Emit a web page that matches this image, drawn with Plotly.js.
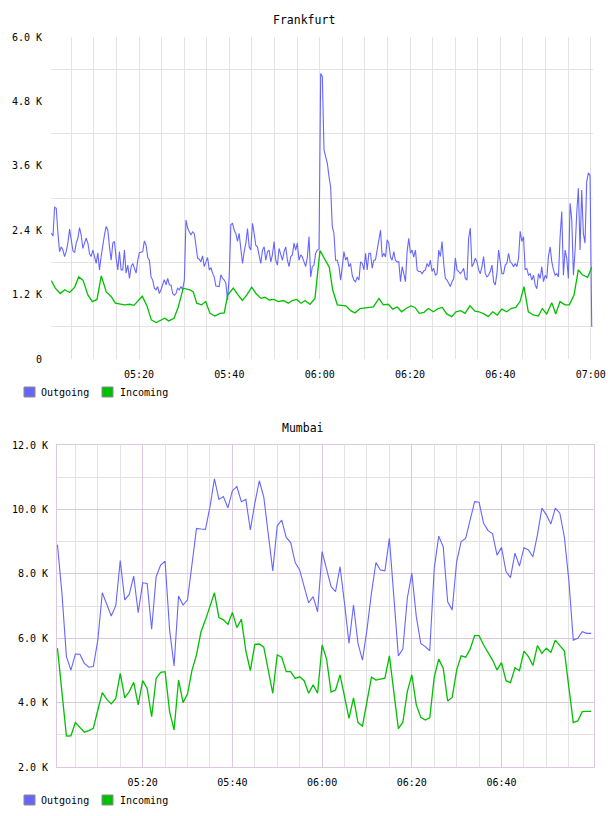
<!DOCTYPE html>
<html>
<head>
<meta charset="utf-8">
<script src="https://cdn.plot.ly/plotly-3.0.1.min.js"></script>
<style>
  html, body { margin: 0; padding: 0; background: #ffffff; }
  #chart { width: 608px; height: 816px; }
</style>
</head>
<body>
<div id="chart"></div>
<script>
// ---- Frankfurt (values in thousands) ----
// Outgoing: evenly sampled between these two minute offsets after 05:00
const frankfurtOutStartMin = 0.585;
const frankfurtOutEndMin = 120.22;
const frankfurtOutgoing = [
  2.35, 2.29, 2.83, 2.81, 2.34, 2.00, 2.09, 2.03, 1.91, 2.00, 2.16, 2.42, 2.22, 2.02, 1.98, 2.16, 2.25, 2.45, 2.31, 2.06,
  2.16, 2.25, 2.16, 1.96, 1.91, 2.03, 1.91, 1.78, 1.98, 1.66, 1.91, 2.16, 2.31, 2.47, 2.40, 2.09, 1.84, 2.16, 2.19, 1.88,
  1.66, 2.00, 1.66, 1.66, 2.03, 1.60, 1.75, 1.50, 1.72, 1.78, 1.69, 1.60, 1.84, 1.98, 1.99, 2.00, 2.20, 2.12, 1.89, 1.84,
  1.53, 1.47, 1.32, 1.29, 1.35, 1.22, 1.29, 1.38, 1.48, 1.38, 1.50, 1.38, 1.38, 1.22, 1.19,
  1.22, 1.32, 1.29, 1.35, 1.29, 1.47, 2.59, 2.44, 2.37, 2.31, 2.37, 2.34, 2.12, 1.88, 1.86, 1.81, 1.92, 1.72, 1.81, 1.89,
  1.66, 1.70, 1.60, 1.53, 1.36, 1.35, 1.35, 1.57, 1.50, 1.47, 1.41, 1.10, 1.53, 2.50, 2.53, 2.40, 2.34, 2.19, 2.34, 2.06,
  1.78, 2.00, 2.16, 2.43, 2.09, 2.03, 2.53, 2.34, 2.12, 2.09, 1.94, 1.78, 2.03, 2.09, 1.84, 2.00, 2.03, 1.81, 1.94, 2.19,
  1.84, 1.75, 2.06, 1.94, 1.84, 2.00, 2.09, 1.84, 1.72, 1.91, 1.94, 2.16, 2.03, 2.16, 1.84,
  1.94, 1.90, 1.81, 1.72, 1.90, 2.28, 1.53, 1.72, 1.75, 1.97, 2.03, 2.05, 5.32, 5.26, 3.89, 3.77, 3.65, 3.40, 3.21, 2.47,
  2.34, 1.84, 1.84, 1.72, 1.47, 1.72, 2.00, 1.84, 1.90, 1.72, 1.78, 1.56, 1.47, 1.44, 1.53, 1.47, 1.81, 1.78, 1.66, 1.97,
  1.66, 1.97, 1.97, 1.69, 1.84, 1.85, 2.09, 2.22, 2.40, 1.90, 1.97, 1.90, 2.22, 2.16, 1.90, 1.84, 2.00, 1.84, 1.81, 1.81,
  1.44, 1.72, 1.59, 1.44, 2.00, 2.25, 1.97, 2.03, 1.90, 2.03, 1.66, 1.63, 1.63, 1.59, 1.64,
  1.66, 1.78, 1.72, 1.84, 1.63, 1.69, 1.56, 1.59, 2.03, 1.91, 2.19, 1.78, 1.50, 1.47, 1.41, 1.35, 1.44, 1.50, 1.88, 1.66,
  1.63, 1.59, 1.63, 1.69, 1.50, 1.47, 2.25, 2.44, 1.72, 1.78, 1.88, 1.81, 1.66, 1.59, 1.72, 1.91, 1.59, 1.53, 1.56, 1.63,
  1.75, 1.44, 1.38, 1.59, 2.03, 1.78, 1.59, 1.59, 1.75, 1.78, 1.97, 1.81, 1.78, 1.72, 1.78, 1.72, 1.88, 2.38, 2.19, 2.28,
  1.66, 1.69, 1.56, 1.59, 1.47, 1.56, 1.38, 1.31, 1.59, 1.50, 1.72, 1.44, 1.56, 1.50, 1.91, 2.09, 1.81, 1.66, 1.56, 1.59,
  1.53, 2.28, 2.75, 1.56, 2.03, 1.88, 1.50, 2.90, 2.59, 1.56, 2.03, 2.72, 3.18, 2.03, 3.15, 2.34, 2.16, 3.30, 3.47, 3.42,
  0.60
];
// Incoming: minute offsets after 05:00 and values
const frankfurtInMinutes = [
  0.58, 1.47, 2.58, 3.55, 4.66, 5.77, 6.65, 7.60, 8.71, 9.66, 10.70, 11.65, 12.76, 13.87, 14.75, 16.83, 17.94, 18.89,
  20.73, 21.77, 22.72, 23.83, 25.69, 26.58, 27.75, 28.63, 29.81, 31.29, 32.02, 32.77, 33.88, 34.77, 35.72, 36.83,
  37.93, 38.88, 39.64, 40.88, 41.98, 42.87, 43.84, 44.95, 45.90, 47.01, 47.89, 48.85, 49.89, 50.84, 51.95, 53.05,
  53.94, 54.91, 55.86, 56.75, 57.86, 58.96, 60.07, 60.96, 62.13, 62.88, 63.90, 65.83, 66.87, 67.82, 68.93, 71.87,
  73.13, 74.08, 75.19, 76.17, 77.18, 78.16, 79.11, 80.22, 81.10, 82.05, 83.10, 84.05, 85.15, 86.26, 87.14, 88.12,
  89.23, 90.18, 91.22, 92.17, 93.28, 94.39, 95.27, 96.38, 97.33, 98.30, 99.32, 100.30, 101.40, 102.36, 103.40,
  104.35, 105.23, 106.19, 107.29, 108.40, 109.29, 110.26, 111.37, 112.25, 113.20, 114.31, 115.26, 116.30, 117.26,
  118.14, 119.33, 120.22
];
const frankfurtIncoming = [
  1.46, 1.32, 1.22, 1.29, 1.24, 1.34, 1.53, 1.47, 1.19, 1.07, 1.11, 1.55, 1.25, 1.16, 1.04, 1.01, 1.02, 1.00,
  1.17, 0.99, 0.73, 0.68, 0.76, 0.71, 0.76, 0.95, 1.32, 1.29, 1.25, 1.04, 1.01, 1.07, 0.85, 0.80,
  0.85, 0.86, 1.19, 1.32, 1.19, 1.09, 1.19, 1.34, 1.22, 1.13, 1.15, 1.10, 1.11, 1.07, 1.09, 1.04,
  1.09, 1.11, 1.04, 1.09, 1.02, 1.13, 2.02, 1.88, 1.71, 1.29, 1.01, 0.99, 0.90, 0.86, 0.94, 0.97,
  1.13, 1.01, 1.02, 0.93, 0.97, 0.88, 0.94, 0.99, 0.96, 0.85, 0.87, 0.94, 0.88, 0.94, 0.96, 0.84,
  0.79, 0.88, 0.90, 0.85, 0.99, 0.89, 0.88, 0.84, 0.79, 0.88, 0.82, 0.93, 0.88, 0.94, 0.96,
  1.07, 1.35, 0.88, 0.82, 0.80, 0.94, 0.84, 1.05, 0.84, 1.07, 1.01, 1.01, 1.19, 1.66,
  1.57, 1.52, 1.71
];

// ---- Mumbai (values in thousands), one sample per minute from 05:01 ----
const mumbaiFirstMin = 1;
const mumbaiOutgoing = [
  8.90, 7.40, 5.43, 5.01, 5.51, 5.50, 5.22, 5.10, 5.12, 5.94, 7.41, 7.06, 6.69, 7.01, 8.41, 7.19, 7.36, 7.93, 6.79, 7.72,
  7.70, 6.28, 7.91, 8.27, 8.39, 6.26, 5.14, 7.31, 7.03, 7.19, 8.33, 9.41, 9.39, 9.38, 10.08, 10.95, 10.31, 10.40, 10.05, 10.58,
  10.71, 10.24, 10.31, 9.36, 10.19, 10.89, 10.38, 9.26, 8.09, 9.49, 9.67, 9.13, 8.97, 8.35, 8.12, 7.60, 7.10, 7.29, 6.82, 8.69,
  8.17, 7.60, 7.45, 8.22, 7.08, 5.84, 7.03, 5.84, 5.32, 6.26, 7.40, 8.35, 8.12, 8.09, 9.10, 7.29, 5.45, 5.66, 7.24, 8.02,
  6.67, 5.84, 5.74, 5.61, 8.17, 9.17, 8.84, 7.13, 6.88, 8.38, 9.00, 9.10, 9.69, 10.24, 10.22, 9.57, 9.34, 9.24, 8.58, 8.82,
  8.07, 7.88, 8.64, 8.24, 8.81, 8.74, 8.53, 9.21, 10.04, 9.83, 9.55, 10.04, 9.88, 9.15, 7.81, 5.94, 6.00, 6.20, 6.15, 6.15
];
const mumbaiIncoming = [
  5.69, 4.29, 2.96, 2.97, 3.38, 3.23, 3.08, 3.13, 3.20, 3.77, 4.31, 4.10, 3.96, 4.13, 4.91, 4.15, 4.34, 4.63, 3.93, 4.68,
  4.44, 3.56, 4.75, 4.94, 4.96, 3.72, 3.15, 4.70, 4.00, 4.27, 5.01, 5.48, 6.20, 6.57, 6.98, 7.41, 6.64, 6.57, 6.43, 6.80,
  6.33, 6.59, 5.61, 4.99, 5.81, 5.82, 5.72, 4.99, 4.29, 5.48, 5.41, 4.96, 4.96, 4.75, 4.80, 4.68, 4.29, 4.55, 4.29, 5.79,
  5.35, 4.33, 4.39, 4.86, 4.18, 3.51, 4.15, 3.38, 3.27, 4.03, 4.79, 4.70, 4.74, 4.76, 5.45, 4.29, 3.19, 3.39, 4.34, 4.86,
  3.93, 3.54, 3.46, 3.53, 4.79, 5.35, 5.07, 4.05, 4.16, 5.01, 5.45, 5.41, 5.66, 6.08, 6.08, 5.79, 5.55, 5.32, 5.01, 5.24,
  4.68, 4.62, 5.08, 4.99, 5.60, 5.43, 5.15, 5.77, 5.53, 5.69, 5.56, 5.94, 5.77, 5.61, 4.49, 3.38, 3.43, 3.72, 3.73, 3.73
];

// ---- Axis labels ----
const frankfurtTimeLabels = ['05:20', '05:40', '06:00', '06:20', '06:40', '07:00'];
const mumbaiTimeLabels = ['05:20', '05:40', '06:00', '06:20', '06:40'];
const frankfurtValueTicks = [0, 1.2, 2.4, 3.6, 4.8, 6.0];
const frankfurtValueLabels = ['0', '1.2 K', '2.4 K', '3.6 K', '4.8 K', '6.0 K'];
const mumbaiValueTicks = [2, 4, 6, 8, 10, 12];
const mumbaiValueLabels = ['2.0 K', '4.0 K', '6.0 K', '8.0 K', '10.0 K', '12.0 K'];
const seriesNames = ['Outgoing', 'Incoming'];

// ---- helpers ----
const BASE = Date.UTC(2024, 0, 1, 5, 0, 0);
function at(min) {
  return new Date(BASE + Math.round(min * 60000)).toISOString().slice(0, 19).replace('T', ' ');
}
function labelToTime(s) {
  const p = s.split(':');
  return at(parseInt(p[0], 10) * 60 + parseInt(p[1], 10) - 300);
}
function everyFive(fromMin, toMin) {
  const out = [];
  for (let m = fromMin; m <= toMin; m += 5) out.push(at(m));
  return out;
}

const frankfurtOutTimes = frankfurtOutgoing.map((_, i) =>
  at(frankfurtOutStartMin + i * (frankfurtOutEndMin - frankfurtOutStartMin) / (frankfurtOutgoing.length - 1)));
const frankfurtInTimes = frankfurtInMinutes.map(at);
const mumbaiTimes = mumbaiOutgoing.map((_, i) => at(mumbaiFirstMin + i));

const W = 608, H = 816;
const px = x => x / W;
const py = y => 1 - y / H;

const BLUE = '#6666ff';
const GREEN = '#00c000';
const GRID = '#e3e3e3';
const PURPLE = '#dcc6e0';
const MONO = 'DejaVu Sans Mono, monospace';
const tickFont = { family: MONO, size: 10, color: '#000000' };

const traces = [
  { x: frankfurtOutTimes, y: frankfurtOutgoing, xaxis: 'x', yaxis: 'y', type: 'scatter', mode: 'lines',
    name: seriesNames[0], line: { color: BLUE, width: 1.1 }, showlegend: false },
  { x: frankfurtInTimes, y: frankfurtIncoming, xaxis: 'x', yaxis: 'y', type: 'scatter', mode: 'lines',
    name: seriesNames[1], line: { color: GREEN, width: 1.3 }, showlegend: false },
  { x: mumbaiTimes, y: mumbaiOutgoing, xaxis: 'x2', yaxis: 'y2', type: 'scatter', mode: 'lines',
    name: seriesNames[0], line: { color: BLUE, width: 1.1 }, showlegend: false },
  { x: mumbaiTimes, y: mumbaiIncoming, xaxis: 'x2', yaxis: 'y2', type: 'scatter', mode: 'lines',
    name: seriesNames[1], line: { color: GREEN, width: 1.3 }, showlegend: false }
];

// legend squares + labels and chart titles
const shapes = [];
const annotations = [];
function legendRow(yCenter) {
  const items = [[24, BLUE, 39, seriesNames[0]], [102, GREEN, 118, seriesNames[1]]];
  items.forEach(([sx, col, tx, label]) => {
    shapes.push({ type: 'rect', xref: 'paper', yref: 'paper',
      x0: px(sx), x1: px(sx + 11), y0: py(yCenter + 5), y1: py(yCenter - 5),
      fillcolor: col, line: { color: '#8c8c8c', width: 1 } });
    annotations.push({ xref: 'paper', yref: 'paper', x: px(tx), y: py(yCenter), xanchor: 'left', yanchor: 'middle',
      text: label, showarrow: false, font: { family: MONO, size: 10, color: '#000000' } });
  });
}
legendRow(392);
legendRow(800);
annotations.push({ xref: 'paper', yref: 'paper', x: px(304), y: py(20), xanchor: 'center', yanchor: 'middle',
  text: 'Frankfurt', showarrow: false, font: { family: MONO, size: 11.5, color: '#000000' } });
annotations.push({ xref: 'paper', yref: 'paper', x: px(303), y: py(428), xanchor: 'center', yanchor: 'middle',
  text: 'Mumbai', showarrow: false, font: { family: MONO, size: 11.5, color: '#000000' } });

const layout = {
  width: W, height: H,
  margin: { l: 0, r: 0, t: 0, b: 0 },
  paper_bgcolor: '#ffffff', plot_bgcolor: '#ffffff',
  showlegend: false,
  hovermode: false,
  xaxis: {
    domain: [px(51), px(593)], anchor: 'y', type: 'date',
    range: [at(0.52), at(120.5)],
    tickmode: 'array', tickvals: frankfurtTimeLabels.map(labelToTime), ticktext: frankfurtTimeLabels,
    ticks: 'outside', ticklen: 6, tickcolor: 'rgba(0,0,0,0)', tickfont: tickFont,
    showgrid: true, gridcolor: GRID, gridwidth: 1,
    minor: { tickmode: 'array', tickvals: everyFive(5, 120), showgrid: true, gridcolor: GRID, gridwidth: 1 },
    zeroline: false, showline: false, automargin: false
  },
  yaxis: {
    domain: [py(359), py(37)], anchor: 'x',
    range: [0, 6.0],
    tickmode: 'array', tickvals: frankfurtValueTicks, ticktext: frankfurtValueLabels,
    ticks: 'outside', ticklen: 6, tickcolor: 'rgba(0,0,0,0)', tickfont: tickFont,
    showgrid: false,
    minor: { tickmode: 'array', tickvals: [0.6, 1.8, 3.0, 4.2, 5.4], showgrid: true, gridcolor: GRID, gridwidth: 1 },
    zeroline: false, showline: false, automargin: false
  },
  xaxis2: {
    domain: [px(57), px(594)], anchor: 'y2', type: 'date',
    range: [at(0.90), at(120.63)],
    tickmode: 'array', tickvals: mumbaiTimeLabels.map(labelToTime), ticktext: mumbaiTimeLabels,
    ticks: 'outside', ticklen: 6, tickcolor: 'rgba(0,0,0,0)', tickfont: tickFont,
    showgrid: true, gridcolor: PURPLE, gridwidth: 1,
    minor: { tickmode: 'array', tickvals: everyFive(5, 115), showgrid: true, gridcolor: GRID, gridwidth: 1 },
    zeroline: false, showline: true, mirror: true, linecolor: PURPLE, linewidth: 1, automargin: false
  },
  yaxis2: {
    domain: [py(767), py(445)], anchor: 'x2',
    range: [2, 12],
    tickmode: 'array', tickvals: mumbaiValueTicks, ticktext: mumbaiValueLabels,
    ticks: 'outside', ticklen: 6, tickcolor: 'rgba(0,0,0,0)', tickfont: tickFont,
    showgrid: true, gridcolor: PURPLE, gridwidth: 1,
    minor: { tickmode: 'array', tickvals: [3, 5, 7, 9, 11], showgrid: true, gridcolor: GRID, gridwidth: 1 },
    zeroline: false, showline: true, mirror: true, linecolor: PURPLE, linewidth: 1, automargin: false
  },
  shapes: shapes,
  annotations: annotations
};

Plotly.newPlot('chart', traces, layout, { staticPlot: true, displayModeBar: false });
</script>
</body>
</html>
